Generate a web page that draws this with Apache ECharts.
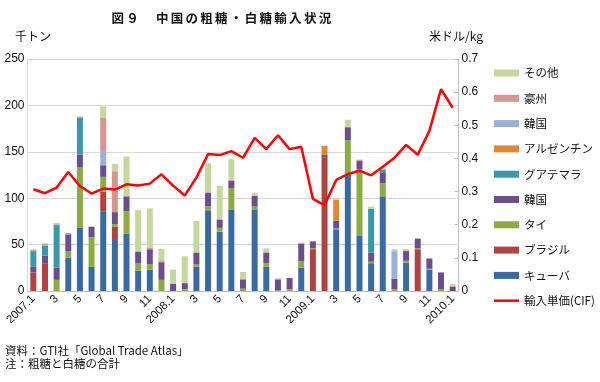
<!DOCTYPE html>
<html><head><meta charset="utf-8">
<script src="https://cdn.jsdelivr.net/npm/echarts@6/dist/echarts.min.js"></script>
<style>html,body{margin:0;padding:0;background:#fff}#c{width:600px;height:382px}</style>
</head><body><div id="c"></div>
<script>
const categories = ['2007.1','2','3','4','5','6','7','8','9','10','11','12',
  '2008.1','2','3','4','5','6','7','8','9','10','11','12',
  '2009.1','2','3','4','5','6','7','8','9','10','11','12','2010.1'];
const cuba      = [0,0,0,36,68,26,86,56,62,22,23,0, 0,0,26,87,64,88,0,88,26,0,0,25, 0,0,66.5,125,60,30,102,0,30.5,0,23,0,0];
const brazil    = [20,30,0,0,0,0,21,13,0,0,0,0, 0,0,0,0,0,0,0,0,0,0,0,0, 45,144,0,0,0,0,0,0,0,45,0,0,0];
const thai      = [0,0,12,7,65,32,16,3,24,8,6,12, 0,2,2.5,4,4,23,2.5,3,4,0.5,2,7, 1,0,1,37.5,71,1.5,14,2,2,1,1,1.5,0];
const korea     = [6,8,13,18,14,11,12.5,13,16,12,16,19, 8,6.5,13,15,9,8,10,11.5,11,12,12,19, 7.5,2.5,8,14,9,10,12,11,10.5,10.5,11,18.5,4.5];
const guatemala = [17,11,46,0,40,0,0,0,0,0,0,0, 0,0,0,0,0,0,0,0,0,0,0,0, 0,0,0,0,0,47,3,0,0,0,0,0,0];
const argentina = [0,0,0,0,0,0,0,0,0,0,0,0, 0,0,0,0,0,0,0,0,0,0,0,0, 0,10,23,0,0,0,0,0,0,0,0,0,0];
const korea2    = [0,0,0,0,0,0,15.5,0,0,0,0,0, 0,0,0,0,0,0,0,0,0,0,0,0, 0,0,0,0,0,0,0,30,0,0,0,0,0];
const australia = [1,2,1,1.5,1,0,36,44,1,1,2,2, 0,0,0,0.5,0.5,1,1,0.5,1,1,0,1, 0,0,0,0,1.5,0,0,0,1,0,0.5,0,1];
const other     = [1,0.5,1.5,0,0,1,12,8,42,44,42,12.5, 15,29,34,31,36,22,7,3,4,0,0,0, 0,0,1.5,8,0,2.5,1,2,1,0,0,0,2];
const price     = [0.307,0.295,0.312,0.359,0.317,0.294,0.309,0.306,0.322,0.318,0.324,0.352,
  0.318,0.288,0.342,0.413,0.41,0.422,0.402,0.462,0.428,0.47,0.428,0.435,
  0.278,0.259,0.335,0.353,0.363,0.349,0.375,0.402,0.441,0.411,0.483,0.609,0.553];
const leftTicks = [0, 250, 50];
const rightTicks = [0, 0.7, 0.1];
const titleText = '図９　中国の粗糖・白糖輸入状況';

const ZW = '\u200b';
const barSeries = [
  {name:'キューバ', data:cuba, color:'#3b6aa3'},
  {name:'ブラジル', data:brazil, color:'#b0433f'},
  {name:'タイ', data:thai, color:'#8cab44'},
  {name:'韓国', data:korea, color:'#6b4e8e'},
  {name:'グアテマラ', data:guatemala, color:'#3a97ae'},
  {name:'アルゼンチン', data:argentina, color:'#dc8a35'},
  {name:'韓国'+ZW, data:korea2, color:'#98b2d6'},
  {name:'豪州', data:australia, color:'#d8958f'},
  {name:'その他', data:other, color:'#c4d79c'}
];
const lineName = '輸入単価(CIF)';
const JP = '"Noto Sans CJK JP","Noto Sans",sans-serif';
const LAT = '"Liberation Sans",Arial,sans-serif';

const series = barSeries.map(s => ({
  name: s.name, type: 'bar', stack: 'total', data: s.data, barWidth: 6,
  itemStyle: {color: s.color}, emphasis: {disabled: true}
}));
series.push({
  name: lineName, type: 'line', yAxisIndex: 1, data: price, symbol: 'none',
  lineStyle: {color: '#ff0000', width: 2.5}, itemStyle: {color: '#ff0000'}, z: 5
});

const titleGraphics = Array.from(titleText).map((ch, i) => ({
  type: 'text', left: 111.5 + i * 14.8, top: 12,
  style: {text: ch, font: 'bold 12.5px ' + JP, fill: '#111'}
}));

const legendData = barSeries.map(s => ({name: s.name, icon: 'rect'})).reverse();
legendData.push({name: lineName, icon: 'path://M0,0L25,0L25,2.5L0,2.5Z', itemStyle: {color: '#ff0000'}});

const chart = echarts.init(document.getElementById('c'), null, {renderer: 'canvas'});
chart.setOption({
  animation: false,
  backgroundColor: '#fff',
  grid: {left: 27.5, right: 141.5, top: 59, bottom: 91, containLabel: false},
  legend: {
    orient: 'vertical', left: 494, top: 66, padding: 0, itemWidth: 25, itemHeight: 7, itemGap: 11.3,
    symbolKeepAspect: true,
    data: legendData,
    formatter: n => n.replace(ZW, ''),
    textStyle: {fontFamily: JP, fontSize: 11.5, color: '#111', lineHeight: 14},
    selectedMode: false
  },
  xAxis: {
    type: 'category', data: categories, boundaryGap: true,
    axisLine: {lineStyle: {color: '#bfbfbf'}}, axisTick: {show: false},
    axisLabel: {interval: 1, rotate: 45, margin: 6, fontSize: 11.5, fontFamily: LAT, color: '#111'}
  },
  yAxis: [
    {type: 'value', min: leftTicks[0], max: leftTicks[1], interval: leftTicks[2],
     axisLine: {show: true, lineStyle: {color: '#d9d9d9'}}, axisTick: {show: false},
     splitLine: {lineStyle: {color: '#d9d9d9', width: 1}},
     axisLabel: {margin: 3, fontSize: 12, fontFamily: LAT, color: '#111'}},
    {type: 'value', min: rightTicks[0], max: rightTicks[1], interval: rightTicks[2], position: 'right',
     axisLine: {show: true, lineStyle: {color: '#bfbfbf'}},
     axisTick: {show: true, inside: true, length: 4, lineStyle: {color: '#bfbfbf'}},
     splitLine: {show: false},
     axisLabel: {margin: 3, fontSize: 12, fontFamily: LAT, color: '#111',
       formatter: v => String(Math.round(v * 10) / 10)}}
  ],
  graphic: titleGraphics.concat([
    {type: 'text', left: 15, top: 30, style: {text: '千トン', font: '12px ' + JP, fill: '#111'}},
    {type: 'text', left: 429, top: 30, style: {text: '米ドル/kg', font: '12px ' + JP, fill: '#111'}},
    {type: 'text', left: 5, top: 345, style: {text: '資料：GTI社「Global Trade Atlas」', font: '11.5px ' + JP, fill: '#111'}},
    {type: 'text', left: 5, top: 358, style: {text: '注：粗糖と白糖の合計', font: '11.5px ' + JP, fill: '#111'}}
  ]),
  series: series
});
</script></body></html>
